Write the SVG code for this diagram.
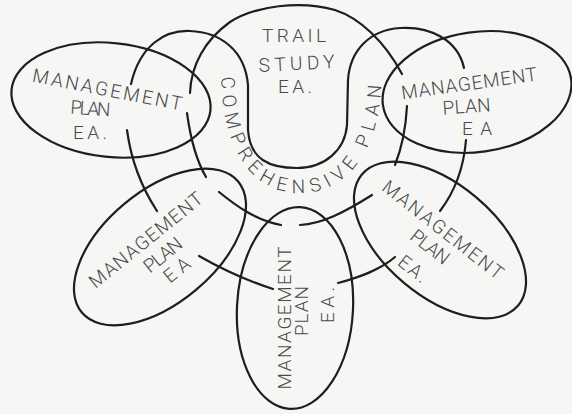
<svg xmlns="http://www.w3.org/2000/svg" width="572" height="414" viewBox="0 0 572 414">
<defs>
<style>
.ln{fill:none;stroke:#1e1e1e;stroke-width:2.2;stroke-linecap:round;stroke-linejoin:round}
.t{font-family:Roboto,"Liberation Sans",sans-serif;font-weight:300;font-size:19px;fill:#4a4a4a;text-anchor:middle}
.cp{font-family:Roboto,"Liberation Sans",sans-serif;font-weight:300;font-size:19px;fill:#4a4a4a;letter-spacing:6px}
</style>
<path id="cpArc" d="M221,70 C221,150 252,193 300,193 C348,193 382,150 382,70"/>
</defs>
<rect width="572" height="414" fill="#f6f6f4"/>

<g id="connectors">
<path class="ln" d="M131,84 C140,45 165,30 190,31 C220,32 245,50 248,85 L248,130 C250,160 270,168 297,168 C325,168 345,150 347,125 L348,80 C350,50 370,30 400,28 C430,26 458,40 464,68"/>
<path class="ln" d="M187,113 C190,135 196,160 206,177"/>
<path class="ln" d="M127,130 C131,160 140,185 157,211"/>
<path class="ln" d="M219,192 C235,205 255,220 281,225"/>
<path class="ln" d="M199,256 C220,268 245,280 273,289"/>
<path class="ln" d="M300,225 C322,224 345,212 372,195"/>
<path class="ln" d="M338,283 C360,277 380,270 395,257"/>
<path class="ln" d="M407,106 C406,125 403,145 395,165"/>
<path class="ln" d="M466,140 C464,165 456,190 440,211"/>
</g>

<g id="node-trail-study">
<path class="ln" d="M190,93 C191,65 205,40 230,22 C255,6 300,0 335,10 C360,18 385,42 402,74"/>
<text class="t" x="294" y="42" textLength="64">TRAIL</text>
<text class="t" transform="translate(297 70) rotate(-3)" textLength="76">STUDY</text>
<text class="t" x="295" y="93" textLength="34">EA.</text>
</g>

<g id="node-comprehensive-plan">
<text class="cp"><textPath href="#cpArc" startOffset="7">COMPREHENSIVE PLAN</textPath></text>
</g>

<g id="node-mp-left">
<ellipse class="ln" cx="111" cy="100" rx="100" ry="57" transform="rotate(6 111 100)"/>
<text class="t" transform="translate(106 96) rotate(11)" textLength="152">MANAGEMENT</text>
<text class="t" transform="translate(90 115) rotate(4)" textLength="40">PLAN</text>
<text class="t" x="90" y="139" textLength="34">EA.</text>
</g>

<g id="node-mp-right">
<ellipse class="ln" cx="477" cy="92" rx="95" ry="60" transform="rotate(-8 477 92)"/>
<text class="t" transform="translate(470 90) rotate(-8)" textLength="137">MANAGEMENT</text>
<text class="t" transform="translate(467 113) rotate(-4)" textLength="48">PLAN</text>
<text class="t" x="477" y="135" textLength="30">EA</text>
</g>

<g id="node-mp-lower-left">
<ellipse class="ln" cx="160" cy="247" rx="102" ry="56" transform="rotate(-40 160 247)"/>
<text class="t" transform="translate(150 245) rotate(-39)" textLength="140">MANAGEMENT</text>
<text class="t" transform="translate(167 260) rotate(-39)" textLength="44">PLAN</text>
<text class="t" transform="translate(181 275) rotate(-39)" textLength="28">EA</text>
</g>

<g id="node-mp-lower-right">
<ellipse class="ln" cx="440" cy="240" rx="102" ry="56" transform="rotate(40 440 240)"/>
<text class="t" transform="translate(439 235) rotate(38)" textLength="148">MANAGEMENT</text>
<text class="t" transform="translate(426 252) rotate(38)" textLength="44">PLAN</text>
<text class="t" transform="translate(409 274) rotate(38)" textLength="32">EA.</text>
</g>

<g id="node-mp-bottom">
<ellipse class="ln" cx="295" cy="308" rx="58" ry="101" transform="rotate(3 295 308)"/>
<text class="t" transform="translate(291 318) rotate(-90)" textLength="143">MANAGEMENT</text>
<text class="t" transform="translate(308 311) rotate(-90)" textLength="50">PLAN</text>
<text class="t" transform="translate(334 305) rotate(-90)" textLength="36">EA.</text>
</g>
</svg>
